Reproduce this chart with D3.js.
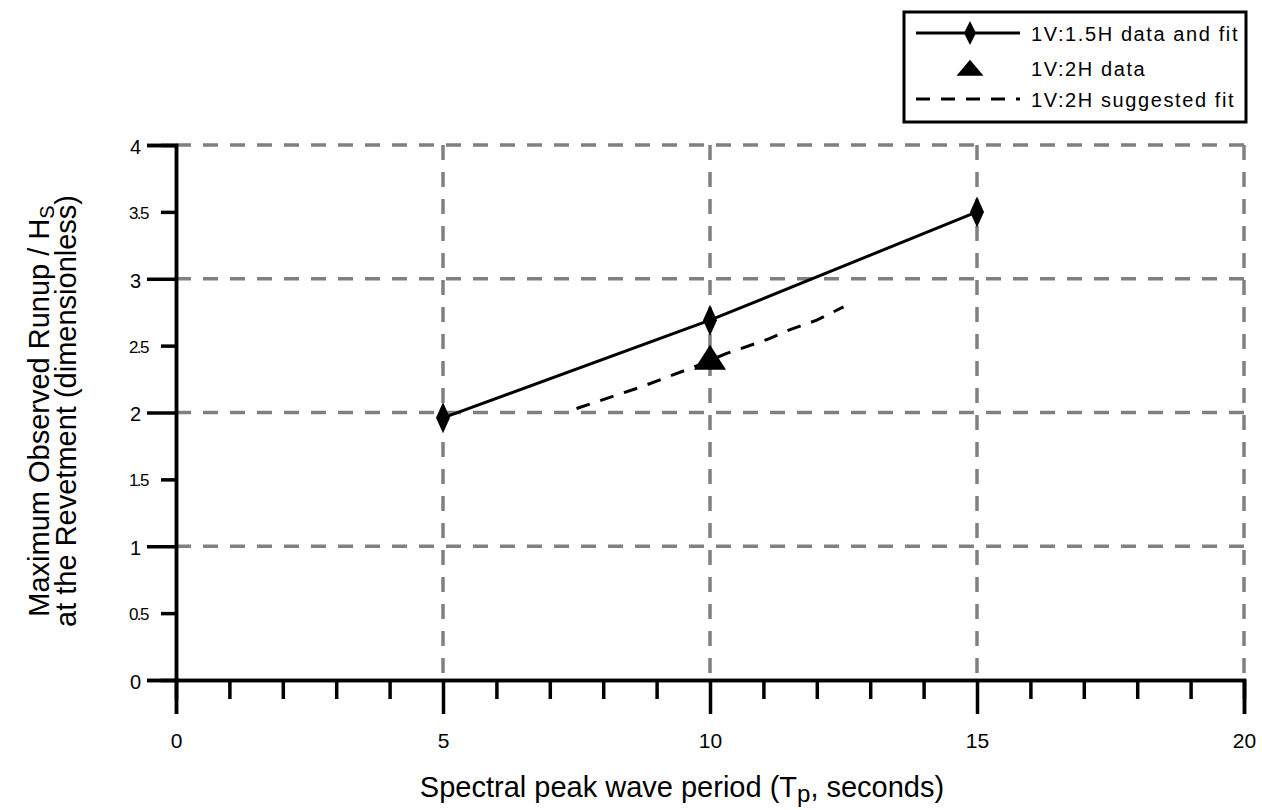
<!DOCTYPE html>
<html>
<head>
<meta charset="utf-8">
<script src="https://cdn.jsdelivr.net/npm/d3@7"></script>
<style>
  html, body { margin: 0; padding: 0; background: #fff; }
  svg { display: block; font-family: "Liberation Sans", Arial, sans-serif; }
</style>
</head>
<body>
<svg id="chart" width="1262" height="810"></svg>
<script>
// ---- data ----
const xMajorTicks = [0, 5, 10, 15, 20];
const xMinorTicks = [1, 2, 3, 4, 6, 7, 8, 9, 11, 12, 13, 14, 16, 17, 18, 19];
const yMajorTicks = [0, 1, 2, 3, 4];
const yMinorTicks = [0.5, 1.5, 2.5, 3.5];
const yTickLabels = ["0", "0.5", "1", "1.5", "2", "2.5", "3", "3.5", "4"];
const xGrid = [5, 10, 15, 20];
const yGrid = [1, 2, 3, 4];

// 1V:1.5H data and fit
const periods15 = [5, 10, 15];
const runup15 = [1.96, 2.69, 3.50];
// 1V:2H data
const periods2 = [10];
const runup2 = [2.41];
// 1V:2H suggested fit
const fitPeriods = [7.5, 8.7, 9.7, 10.3, 11.1, 11.5, 12, 12.5];
const fitRunup = [2.03, 2.19, 2.34, 2.44, 2.55, 2.62, 2.69, 2.79];

const legendLabels = ["1V:1.5H data and fit", "1V:2H data", "1V:2H suggested fit"];

// ---- layout ----
const svg = d3.select("#chart");
const x = d3.scaleLinear().domain([0, 20]).range([176, 1244]);
const y = d3.scaleLinear().domain([0, 4]).range([680, 145]);
const gridColor = "#808080";

function diamond(w, h) {
  return `M0,${-h/2}L${w/2},0L0,${h/2}L${-w/2},0Z`;
}
function triangle(w, h) {
  return `M0,${-h*0.52}L${w/2},${h*0.48}L${-w/2},${h*0.48}Z`;
}

// gridlines
const grid = svg.append("g");
grid.selectAll(".vg").data(xGrid).join("line")
  .attr("x1", d => x(d)).attr("x2", d => x(d))
  .attr("y1", y(4)).attr("y2", y(0))
  .attr("stroke", gridColor).attr("stroke-width", 3.5)
  .attr("stroke-dasharray", "15,12");
grid.selectAll(".hg").data(yGrid).join("line")
  .attr("x1", x(0)).attr("x2", x(20))
  .attr("y1", d => y(d)).attr("y2", d => y(d))
  .attr("stroke", gridColor).attr("stroke-width", 3.5)
  .attr("stroke-dasharray", "15,12");

// axes
const xAxisMajor = svg.append("g").attr("transform", `translate(0,${y(0)})`)
  .call(d3.axisBottom(x).tickValues(xMajorTicks).tickSize(34).tickPadding(19).tickFormat(d3.format("d")));
const xAxisMinor = svg.append("g").attr("transform", `translate(0,${y(0)})`)
  .call(d3.axisBottom(x).tickValues(xMinorTicks).tickSize(19).tickFormat(""));
const yAxisMajor = svg.append("g").attr("transform", `translate(${x(0)},0)`)
  .call(d3.axisLeft(y).tickValues(yMajorTicks).tickSize(29).tickFormat(d => yTickLabels[d * 2]));
const yAxisMinor = svg.append("g").attr("transform", `translate(${x(0)},0)`)
  .call(d3.axisLeft(y).tickValues(yMinorTicks).tickSize(15).tickFormat(d => yTickLabels[Math.round(d * 2)]));

[xAxisMajor, xAxisMinor, yAxisMajor, yAxisMinor].forEach(g => {
  g.select(".domain").attr("stroke", "#000").attr("stroke-width", 3.5);
  g.selectAll(".tick line").attr("stroke", "#000").attr("stroke-width", 3.5);
  g.selectAll("text").attr("fill", "#000").attr("font-family", "Liberation Sans, Arial, sans-serif");
  g.attr("font-size", null);
});
xAxisMajor.selectAll("text").attr("font-size", 21);
yAxisMajor.selectAll("text").attr("font-size", 20).attr("text-anchor", "start").attr("x", -46).attr("dy", "0.42em");
yAxisMinor.selectAll("text").attr("font-size", 17).attr("text-anchor", "start").attr("x", -47).attr("dy", "0.38em")
  .attr("letter-spacing", -1.6);

// series: 1V:2H suggested fit
const line = d3.line().x(d => x(d[0])).y(d => y(d[1]));
svg.append("path")
  .datum(fitPeriods.map((p, i) => [p, fitRunup[i]]))
  .attr("d", line)
  .attr("fill", "none").attr("stroke", "#000").attr("stroke-width", 3)
  .attr("stroke-dasharray", "14,11");

// series: 1V:1.5H data and fit
svg.append("path")
  .datum(periods15.map((p, i) => [p, runup15[i]]))
  .attr("d", line)
  .attr("fill", "none").attr("stroke", "#000").attr("stroke-width", 3);
svg.selectAll(".dia").data(periods15.map((p, i) => [p, runup15[i]])).join("path")
  .attr("transform", d => `translate(${x(d[0])},${y(d[1])})`)
  .attr("d", diamond(14, 31)).attr("fill", "#000");

// series: 1V:2H data
svg.selectAll(".tri").data(periods2.map((p, i) => [p, runup2[i]])).join("path")
  .attr("transform", d => `translate(${x(d[0])},${y(d[1])})`)
  .attr("d", triangle(32, 25)).attr("fill", "#000");

// axis titles
const yTitle = svg.append("text")
  .attr("transform", `translate(49,411) rotate(-90)`)
  .attr("text-anchor", "middle").attr("font-size", 29).attr("fill", "#000");
yTitle.append("tspan").text("Maximum Observed Runup / H");
yTitle.append("tspan").attr("font-size", 20).attr("dy", 5).text("S");
svg.append("text")
  .attr("transform", `translate(76,411) rotate(-90)`)
  .attr("text-anchor", "middle").attr("font-size", 29).attr("fill", "#000")
  .text("at the Revetment (dimensionless)");

const xTitle = svg.append("text")
  .attr("x", 682).attr("y", 797)
  .attr("text-anchor", "middle").attr("font-size", 29).attr("fill", "#000");
xTitle.append("tspan").text("Spectral peak wave period (T");
xTitle.append("tspan").attr("font-size", 24).attr("dy", 5).text("p");
xTitle.append("tspan").attr("dy", -5).text(", seconds)");

// legend
const lg = svg.append("g");
lg.append("rect").attr("x", 904).attr("y", 12).attr("width", 342).attr("height", 110)
  .attr("fill", "#fff").attr("stroke", "#000").attr("stroke-width", 3);
const rowY = [33, 68, 99];
lg.append("line").attr("x1", 916).attr("x2", 1020).attr("y1", rowY[0]).attr("y2", rowY[0])
  .attr("stroke", "#000").attr("stroke-width", 3);
lg.append("path").attr("transform", `translate(970,${rowY[0]})`).attr("d", diamond(12, 24)).attr("fill", "#000");
lg.append("path").attr("transform", `translate(970,${rowY[1]})`).attr("d", triangle(27, 16)).attr("fill", "#000");
lg.append("line").attr("x1", 916).attr("x2", 1020).attr("y1", rowY[2]).attr("y2", rowY[2])
  .attr("stroke", "#000").attr("stroke-width", 3).attr("stroke-dasharray", "14,11");
lg.selectAll(".lt").data(legendLabels).join("text")
  .attr("x", 1031).attr("y", (d, i) => rowY[i] + 8)
  .attr("font-size", 20).attr("letter-spacing", 1.6).attr("fill", "#000")
  .text(d => d);
</script>
</body>
</html>
